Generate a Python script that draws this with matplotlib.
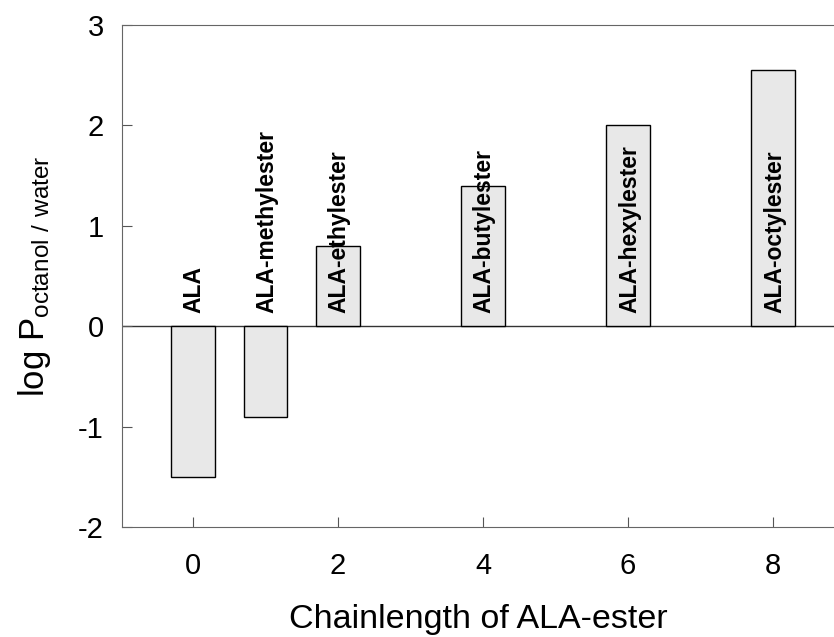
import matplotlib
matplotlib.use("Agg")
import matplotlib.pyplot as plt

plt.rcParams['font.family'] = ['Liberation Sans', 'DejaVu Sans']
plt.rcParams['mathtext.default'] = 'regular'
plt.rcParams['axes.unicode_minus'] = False

chain = [0, 1, 2, 4, 6, 8]
logp = [-1.5, -0.9, 0.8, 1.4, 2.0, 2.55]
names = ["ALA", "ALA-methylester", "ALA-ethylester", "ALA-butylester",
         "ALA-hexylester", "ALA-octylester"]

fig = plt.figure(figsize=(8.34, 6.37), dpi=100)
ax = fig.add_axes([0.146, 0.1727, 0.854, 0.7881])

ax.bar(chain, logp, width=0.6, color="#e8e8e8", edgecolor="black", linewidth=1, zorder=2)
ax.axhline(0, color="#333333", linewidth=1, zorder=1)

for x, n in zip(chain, names):
    ax.text(x + 0.02, 0.13, n, rotation=90, ha="center", va="bottom",
            fontsize=16.5, fontweight="bold", zorder=3)

ax.set_xlim(-0.98, 8.84)
ax.set_ylim(-2, 3)
ax.set_xticks([0, 2, 4, 6, 8])
ax.set_yticks([-2, -1, 0, 1, 2, 3])
ax.tick_params(direction="in", length=7, labelsize=21, color="#555555")
ax.tick_params(axis="x", pad=18)
ax.tick_params(axis="y", pad=13)
ax.spines["right"].set_visible(False)
for s in ["left", "top", "bottom"]:
    ax.spines[s].set_color("#666666")

ax.set_xlabel("Chainlength of ALA-ester", fontsize=24.5, labelpad=17)
ax.set_ylabel(r"log P$_{octanol\ /\ water}$", fontsize=25, labelpad=18)

fig.savefig("out.png", dpi=100)
